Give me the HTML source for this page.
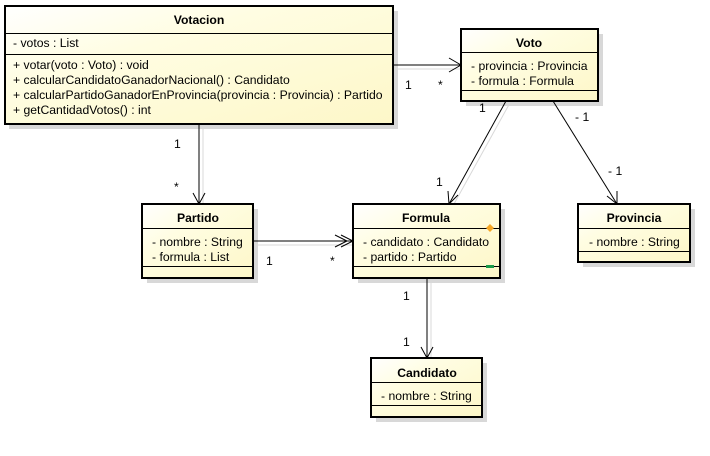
<!DOCTYPE html>
<html><head><meta charset="utf-8"><style>
html,body{margin:0;padding:0;background:#fff;width:710px;height:456px;overflow:hidden}
svg text{font-family:"Liberation Sans",Arial,sans-serif;font-size:12.2px;fill:#000}
.b{font-weight:bold}
</style></head><body>
<svg width="710" height="456" viewBox="0 0 710 456" xmlns="http://www.w3.org/2000/svg">
<defs>
<linearGradient id="g" x1="0" y1="0" x2="1" y2="1">
<stop offset="0" stop-color="#ffffff"/><stop offset="0.35" stop-color="#fffde2"/><stop offset="1" stop-color="#fdf7c8"/>
</linearGradient>
</defs>
<g fill="#d8d8d8">
<rect x="9" y="11" width="389" height="118"/>
<rect x="466" y="34" width="137" height="72"/>
<rect x="147" y="209" width="111" height="74"/>
<rect x="358" y="209" width="147" height="74"/>
<rect x="583" y="209" width="112" height="58"/>
<rect x="376" y="363" width="111" height="59"/>
</g>
<g stroke="#d8d8d8" stroke-width="1" fill="none">
<line x1="393" y1="69" x2="461" y2="69"/>
<line x1="203" y1="124" x2="203" y2="204"/>
<line x1="253" y1="245" x2="353" y2="245"/>
<line x1="431" y1="278" x2="431" y2="358"/>
<line x1="511" y1="101" x2="454" y2="204"/>
</g>
<g stroke="#000" stroke-width="1" fill="none">
<line x1="393" y1="65" x2="461" y2="65"/>
<polyline points="449,58 461,65 449,72"/>
<line x1="199" y1="124" x2="199" y2="204"/>
<polyline points="193,193 199,204 205,193"/>
<line x1="253" y1="241" x2="353" y2="241"/>
<polyline points="341,235 353,241 341,247"/>
<polyline points="335,235 347,241 335,247"/>
<line x1="427" y1="278" x2="427" y2="358"/>
<polyline points="421,347 427,358 433,347"/>
<line x1="506" y1="101" x2="449" y2="204"/>
<polyline points="448,191 449,204 458,195"/>
<line x1="553" y1="101" x2="617" y2="204"/>
<polyline points="607,196 617,204 617,191"/>
</g>
<g stroke="#000" fill="url(#g)">
<rect x="5" y="6" width="388" height="118" stroke-width="2"/>
<rect x="461" y="29" width="137" height="72" stroke-width="2"/>
<rect x="142" y="204" width="111" height="74" stroke-width="2"/>
<rect x="353" y="204" width="147" height="74" stroke-width="2"/>
<rect x="578" y="204" width="112" height="58" stroke-width="2"/>
<rect x="371" y="358" width="111" height="59" stroke-width="2"/>
</g>
<g stroke="#000" stroke-width="1">
<line x1="5" y1="33.5" x2="393" y2="33.5"/><line x1="5" y1="54.5" x2="393" y2="54.5"/>
<line x1="461" y1="52.5" x2="598" y2="52.5"/><line x1="461" y1="90.5" x2="598" y2="90.5"/>
<line x1="142" y1="228.5" x2="253" y2="228.5"/><line x1="142" y1="266.5" x2="253" y2="266.5"/>
<line x1="353" y1="228.5" x2="500" y2="228.5"/><line x1="353" y1="266.5" x2="500" y2="266.5"/>
<line x1="578" y1="228.5" x2="690" y2="228.5"/><line x1="578" y1="251.5" x2="690" y2="251.5"/>
<line x1="371" y1="382.5" x2="482" y2="382.5"/><line x1="371" y1="405.5" x2="482" y2="405.5"/>
</g>
<polygon points="490,224 494,228 490,232 486,228" fill="#f5a623"/>
<rect x="486" y="265" width="8" height="3" fill="#1a9a4a"/>
<text x="199" y="24" text-anchor="middle" class="b">Votacion</text>
<text x="13" y="47">- votos : List</text>
<text x="13" y="69">+ votar(voto : Voto) : void</text>
<text x="13" y="84">+ calcularCandidatoGanadorNacional() : Candidato</text>
<text x="13" y="99">+ calcularPartidoGanadorEnProvincia(provincia : Provincia) : Partido</text>
<text x="13" y="114">+ getCantidadVotos() : int</text>

<text x="529" y="47" text-anchor="middle" class="b">Voto</text>
<text x="471" y="70">- provincia : Provincia</text>
<text x="471" y="85">- formula : Formula</text>

<text x="198" y="222" text-anchor="middle" class="b">Partido</text>
<text x="152" y="246">- nombre : String</text>
<text x="152" y="261">- formula : List</text>

<text x="426" y="222" text-anchor="middle" class="b">Formula</text>
<text x="363" y="246">- candidato : Candidato</text>
<text x="363" y="261">- partido : Partido</text>

<text x="634" y="222" text-anchor="middle" class="b">Provincia</text>
<text x="589" y="246">- nombre : String</text>

<text x="427" y="377" text-anchor="middle" class="b">Candidato</text>
<text x="381" y="400">- nombre : String</text>

<text x="405" y="89">1</text>
<text x="438" y="89">*</text>
<text x="174" y="148">1</text>
<text x="174" y="191">*</text>
<text x="266" y="265">1</text>
<text x="330" y="265">*</text>
<text x="403" y="300">1</text>
<text x="403" y="346">1</text>
<text x="479" y="112">1</text>
<text x="436" y="186">1</text>
<text x="575" y="121">- 1</text>
<text x="608" y="175">- 1</text>
</svg>
</body></html>
